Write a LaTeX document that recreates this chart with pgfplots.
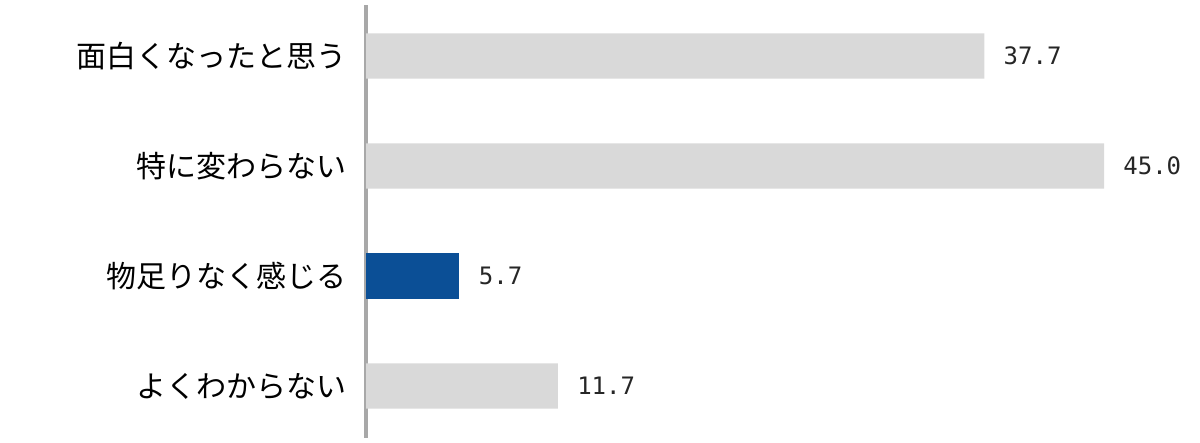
\documentclass[border=0pt]{standalone}
\usepackage{fontspec}
\setmainfont{Noto Sans CJK JP}
\newfontfamily\numfont{DejaVu Sans Mono}
\usepackage{pgfplots}
\pgfplotsset{compat=1.18}
\definecolor{bargray}{HTML}{D9D9D9}
\definecolor{barblue}{HTML}{0B4F96}
\definecolor{axisgray}{HTML}{A8A8A8}
\begin{document}
\begin{tikzpicture}
\useasboundingbox (0,0) rectangle (600pt,221.5pt);
\begin{axis}[
  at={(183pt,2.5pt)}, anchor=south west,
  scale only axis, width=410pt, height=216.5pt,
  xmin=0, xmax=50, ymin=-0.473, ymax=3.464,
  xbar, bar width=0.41, bar shift=0pt,
  axis x line=none, axis y line=left,
  y axis line style={-, axisgray, line width=2pt},
  ytick={0,1,2,3},
  yticklabels={よくわからない,物足りなく感じる,特に変わらない,面白くなったと思う},
  major tick length=0pt,
  yticklabel style={font=\fontsize{15pt}{15pt}\selectfont, xshift=-6pt},
  nodes near coords, point meta=x,
  every node near coord/.append style={font=\numfont\fontsize{12pt}{12pt}\selectfont, text=black!85,
    anchor=west, inner sep=0pt, xshift=9.5pt},
  /pgf/number format/.cd, fixed, fixed zerofill, precision=1, assume math mode=true,
]
\addplot[fill=bargray, draw=none] coordinates {(11.7,0) (45.0,2) (37.7,3)};
\addplot[fill=barblue, draw=none] coordinates {(5.7,1)};
\end{axis}
\end{tikzpicture}
\end{document}
